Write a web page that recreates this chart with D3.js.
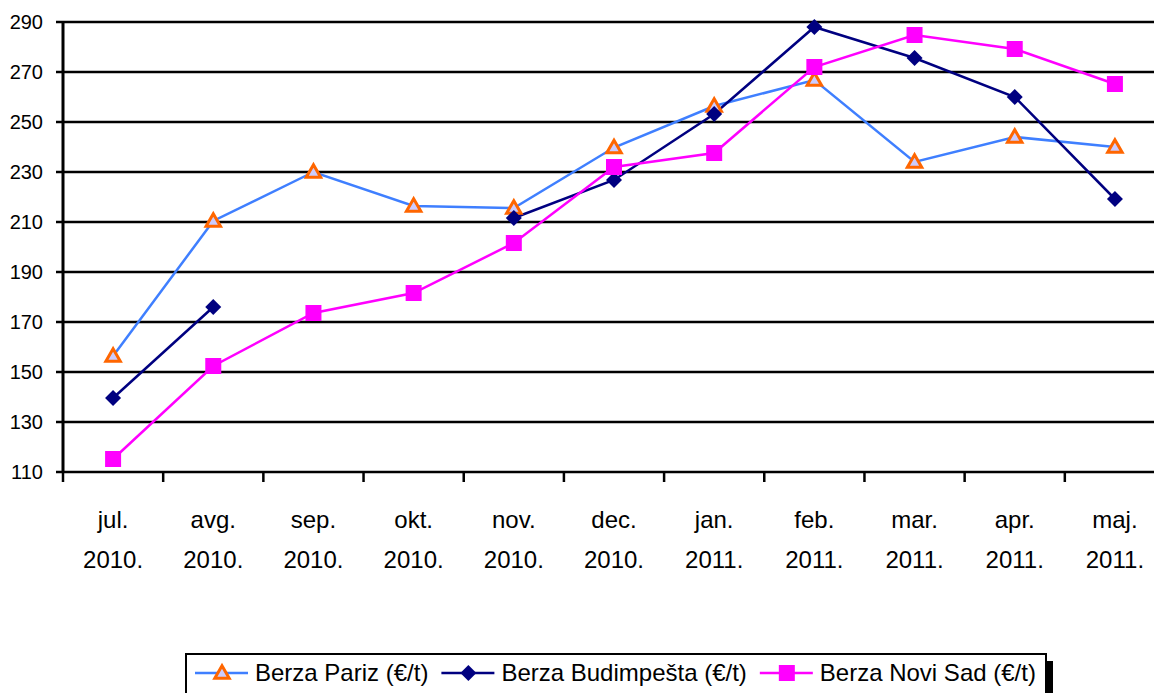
<!DOCTYPE html>
<html>
<head>
<meta charset="utf-8">
<script src="https://cdn.jsdelivr.net/npm/d3@7"></script>
<style>
  body { margin: 0; background: #fff; }
  text { font-family: "Liberation Sans", Arial, sans-serif; fill: #000; }
</style>
</head>
<body>
<div class="chart"></div>
<script>
// data
var months = ["jul.", "avg.", "sep.", "okt.", "nov.", "dec.", "jan.", "feb.", "mar.", "apr.", "maj."];
var years = ["2010.", "2010.", "2010.", "2010.", "2010.", "2010.", "2011.", "2011.", "2011.", "2011.", "2011."];
var yTicks = [110, 130, 150, 170, 190, 210, 230, 250, 270, 290];

var pariz = [156.4, 210.4, 230, 216.4, 215.6, 239.8, 256.4, 266.8, 234, 244, 240];
var budimpesta = [139.6, 176, null, null, 211.6, 226.8, 253.2, 288, 275.6, 260, 219.2];
var noviSad = [115.2, 152.4, 173.6, 181.6, 201.6, 232, 237.6, 272, 284.8, 279.2, 265.2];

var seriesNames = ["Berza Pariz (€/t)", "Berza Budimpešta (€/t)", "Berza Novi Sad (€/t)"];

//Define SVG
var svgWidth = 1154;
var svgHeight = 693;

var svg = d3.select(".chart")
  .append("svg")
  .attr("width", svgWidth)
  .attr("height", svgHeight);

// scales
var x = d3.scaleBand()
  .domain(d3.range(months.length))
  .range([63, 1165])
  .paddingInner(0)
  .paddingOuter(0);

var y = d3.scaleLinear()
  .domain([110, 290])
  .range([472, 22]);

// gridlines
svg.append("g")
  .selectAll("line")
  .data(yTicks)
  .enter()
  .append("line")
  .attr("x1", 56)
  .attr("x2", svgWidth)
  .attr("y1", d => y(d))
  .attr("y2", d => y(d))
  .attr("stroke", "#000")
  .attr("stroke-width", 2.5);

// y axis line
svg.append("line")
  .attr("x1", 63).attr("x2", 63)
  .attr("y1", y(290) - 1).attr("y2", y(110) + 1)
  .attr("stroke", "#000")
  .attr("stroke-width", 3);

// y tick labels
svg.append("g")
  .selectAll("text")
  .data(yTicks)
  .enter()
  .append("text")
  .attr("x", 43)
  .attr("y", d => y(d))
  .attr("dy", "0.36em")
  .attr("text-anchor", "end")
  .attr("font-size", "20px")
  .text(d => d);

// x ticks at band edges
var edges = d3.range(months.length + 1).map(i => 63 + i * x.bandwidth());
svg.append("g")
  .selectAll("line")
  .data(edges)
  .enter()
  .append("line")
  .attr("x1", d => d).attr("x2", d => d)
  .attr("y1", y(110)).attr("y2", y(110) + 10)
  .attr("stroke", "#000")
  .attr("stroke-width", 2.5);

// x labels (two lines)
var xl = svg.append("g")
  .selectAll("text")
  .data(months)
  .enter()
  .append("text")
  .attr("text-anchor", "middle")
  .attr("font-size", "24px");
xl.append("tspan")
  .attr("x", (d, i) => x(i) + x.bandwidth() / 2)
  .attr("y", 528)
  .text(d => d);
xl.append("tspan")
  .attr("x", (d, i) => x(i) + x.bandwidth() / 2)
  .attr("y", 568)
  .text((d, i) => years[i]);

// lines
var cx = i => x(i) + x.bandwidth() / 2;
var line = d3.line()
  .defined(d => d != null)
  .x((d, i) => cx(i))
  .y(d => y(d));

var series = [
  { name: seriesNames[0], values: pariz, color: "#3F7FFF", marker: "triangle" },
  { name: seriesNames[1], values: budimpesta, color: "#000080", marker: "diamond" },
  { name: seriesNames[2], values: noviSad, color: "#FF00FF", marker: "square" }
];

function drawMarker(g, type, px, py) {
  if (type === "triangle") {
    g.append("path")
      .attr("d", d3.symbol().type(d3.symbolTriangle).size(90)())
      .attr("transform", `translate(${px},${py + 1})`)
      .attr("fill", "#CCCCFF")
      .attr("stroke", "#FF6600")
      .attr("stroke-width", 3);
  } else if (type === "diamond") {
    g.append("path")
      .attr("d", "M0,-8L8,0L0,8L-8,0Z")
      .attr("transform", `translate(${px},${py})`)
      .attr("fill", "#000080");
  } else {
    g.append("rect")
      .attr("x", px - 8).attr("y", py - 8)
      .attr("width", 16).attr("height", 16)
      .attr("fill", "#FF00FF");
  }
}

series.forEach(function(s) {
  svg.append("path")
    .datum(s.values)
    .attr("d", line)
    .attr("fill", "none")
    .attr("stroke", s.color)
    .attr("stroke-width", 2.5);
});

series.forEach(function(s) {
  var g = svg.append("g");
  s.values.forEach(function(v, i) {
    if (v != null) drawMarker(g, s.marker, cx(i), y(v));
  });
});

// legend
var legend = svg.append("g");
var lx = 186, ly = 654, lh = 42;
var shadow = legend.append("rect").attr("fill", "#000");
var box = legend.append("rect")
  .attr("fill", "#fff")
  .attr("stroke", "#000")
  .attr("stroke-width", 2);

var cur = lx + 9;
series.forEach(function(s) {
  var item = legend.append("g");
  item.append("line")
    .attr("x1", cur).attr("x2", cur + 53)
    .attr("y1", ly + 19).attr("y2", ly + 19)
    .attr("stroke", s.color)
    .attr("stroke-width", 2.5);
  drawMarker(item, s.marker, cur + 27, ly + 19);
  var t = item.append("text")
    .attr("x", cur + 60)
    .attr("y", ly + 27)
    .attr("font-size", "24px")
    .text(s.name);
  cur = cur + 60 + t.node().getComputedTextLength() + 13;
});
var lw = 1046 - lx;
box.attr("x", lx).attr("y", ly).attr("width", lw).attr("height", lh);
shadow.attr("x", lx + 7).attr("y", ly + 7).attr("width", lw).attr("height", lh);
</script>
</body>
</html>
